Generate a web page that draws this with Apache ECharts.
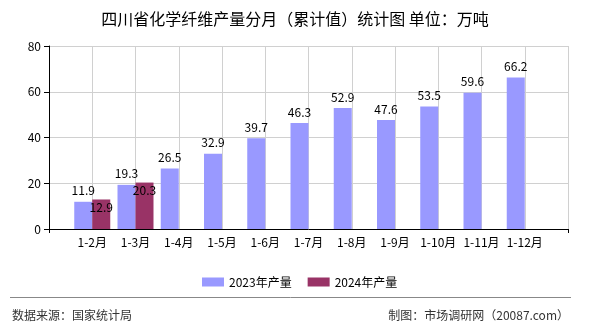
<!DOCTYPE html>
<html>
<head>
<meta charset="utf-8">
<script src="https://cdn.jsdelivr.net/npm/echarts@6/dist/echarts.min.js"></script>
<style>
  html, body { margin: 0; padding: 0; background: #fff; }
  #chart { width: 590px; height: 330px; }
</style>
</head>
<body>
<div id="chart"></div>
<script>
// Cumulative monthly output (10k tonnes)
const categories = ['1-2月', '1-3月', '1-4月', '1-5月', '1-6月', '1-7月', '1-8月', '1-9月', '1-10月', '1-11月', '1-12月'];
const output2023 = [11.9, 19.3, 26.5, 32.9, 39.7, 46.3, 52.9, 47.6, 53.5, 59.6, 66.2];
const output2024 = [12.9, 20.3];
const seriesNames = ['2023年产量', '2024年产量'];
const yTicks = { min: 0, max: 80, step: 20 };

// Axis is padded with an empty slot on each side so categories sit on grid lines
const axisData = [''].concat(categories, ['']);
function pad(values) {
  const out = [null];
  for (let i = 0; i < categories.length; i++) out.push(i < values.length ? values[i] : null);
  out.push(null);
  return out;
}

const FONT = '"Noto Sans CJK SC", "Noto Sans", sans-serif';
const chart = echarts.init(document.getElementById('chart'), null, { renderer: 'canvas' });

chart.setOption({
  animation: false,
  backgroundColor: '#ffffff',
  textStyle: { fontFamily: FONT },
  title: {
    text: '四川省化学纤维产量分月（累计值）统计图 单位：万吨',
    left: 'center',
    top: 6,
    textStyle: { fontSize: 16, fontWeight: 'normal', color: '#000', fontFamily: FONT }
  },
  legend: {
    data: seriesNames,
    left: 197,
    top: 271,
    itemWidth: 22,
    itemHeight: 9,
    itemGap: 16,
    icon: 'rect',
    textStyle: { fontSize: 12, color: '#000', fontFamily: FONT }
  },
  grid: { left: 49, right: 22, top: 46, bottom: 101, containLabel: false },
  xAxis: {
    type: 'category',
    data: axisData,
    boundaryGap: false,
    axisLine: { lineStyle: { color: '#000', width: 1 } },
    axisTick: {
      show: true,
      length: 4,
      interval: function (idx) { return idx === 0 || idx === axisData.length - 1; },
      lineStyle: { color: '#000' }
    },
    axisLabel: { interval: 0, color: '#000', fontSize: 12, margin: 7, fontFamily: FONT },
    splitLine: { show: true, interval: 0, lineStyle: { color: '#d0d0d0', width: 1 } }
  },
  yAxis: {
    type: 'value',
    min: yTicks.min,
    max: yTicks.max,
    interval: yTicks.step,
    axisLine: { show: true, lineStyle: { color: '#000', width: 1 } },
    axisTick: { show: true, length: 5, lineStyle: { color: '#000' } },
    axisLabel: { color: '#000', fontSize: 12, margin: 8, fontFamily: FONT },
    splitLine: { show: true, lineStyle: { color: '#d0d0d0', width: 1 } }
  },
  series: [
    {
      name: seriesNames[0],
      type: 'bar',
      data: pad(output2023),
      barWidth: 18,
      barGap: '0%',
      itemStyle: { color: '#9999FF' },
      label: {
        show: true,
        position: 'top',
        distance: 5,
        color: '#000',
        fontSize: 12,
        fontFamily: FONT,
        formatter: function (p) { return p.value == null ? '' : p.value.toFixed(1); }
      }
    },
    {
      name: seriesNames[1],
      type: 'bar',
      data: pad(output2024),
      barWidth: 18,
      barGap: '0%',
      itemStyle: { color: '#993366' },
      label: {
        show: true,
        position: 'insideTop',
        distance: 2,
        color: '#000',
        fontSize: 12,
        fontFamily: FONT,
        formatter: function (p) { return p.value == null ? '' : p.value.toFixed(1); }
      }
    }
  ],
  graphic: [
    {
      type: 'line',
      shape: { x1: 10, y1: 297.5, x2: 571, y2: 297.5 },
      style: { stroke: '#888888', lineWidth: 1 },
      silent: true
    },
    {
      type: 'text',
      left: 12,
      top: 309,
      style: { text: '数据来源：国家统计局', fill: '#333', font: '12px ' + FONT }
    },
    {
      type: 'text',
      right: 21,
      top: 309,
      style: { text: '制图：市场调研网（20087.com）', fill: '#333', font: '12px ' + FONT }
    }
  ]
});
</script>
</body>
</html>
